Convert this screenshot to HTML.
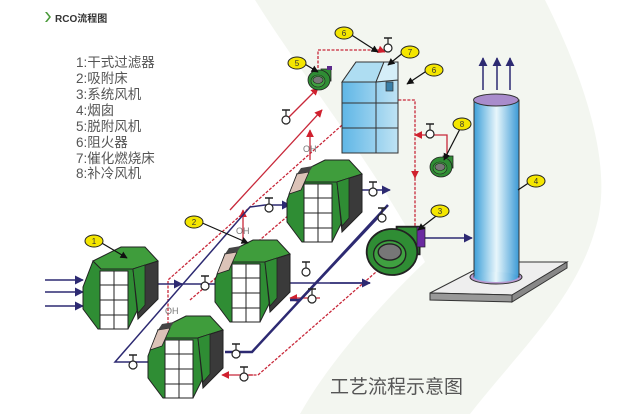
<!DOCTYPE html>
<html><head><meta charset="utf-8"><style>
html,body{margin:0;padding:0;background:#fff;}
svg{display:block;}
text{font-family:"Liberation Sans","Noto Sans CJK SC",sans-serif;}
</style></head><body>
<svg width="622" height="414" viewBox="0 0 622 414" xmlns="http://www.w3.org/2000/svg">
<defs>
<linearGradient id="cyl" x1="0" x2="1" y1="0" y2="0">
<stop offset="0" stop-color="#3d9fd8"/><stop offset="0.5" stop-color="#e8f6fb"/><stop offset="1" stop-color="#3b9ad6"/></linearGradient>
<linearGradient id="bed" x1="0" x2="1" y1="0" y2="0">
<stop offset="0" stop-color="#5fb6e6"/><stop offset="1" stop-color="#bfe3f4"/></linearGradient>
<g id="box">
<polygon points="0,40 10,14 18,22 50,22 55,62 45,82 15,82 0,62" fill="#2f8d34" stroke="#222" stroke-width="1"/>
<polygon points="10,14 38,0 62,0 75,14 50,22 18,22" fill="#3f9d3c" stroke="#222" stroke-width="1"/>
<polygon points="50,22 75,14 75,52 55,72" fill="#3a3a3a" stroke="#222" stroke-width="1"/>
<polygon points="50,22 62,18 62,58 55,66" fill="#2f8d34" stroke="#222" stroke-width="0.8"/>
<rect x="17" y="24" width="28" height="58" fill="#fff" stroke="#222" stroke-width="1"/>
<line x1="31" y1="24" x2="31" y2="82" stroke="#222"/>
<line x1="17" y1="38" x2="45" y2="38" stroke="#222"/>
<line x1="17" y1="53" x2="45" y2="53" stroke="#222"/>
<line x1="17" y1="68" x2="45" y2="68" stroke="#222"/>
</g>
<g id="boxh">
<use href="#box"/>
<polygon points="2,34 10,14 22,12 14,30" fill="#dcc3b8" stroke="#222" stroke-width="0.8"/>
<polygon points="10,14 14,8 26,6 22,12" fill="#444"/>
</g>
<g id="valve">
<line x1="0" y1="-8" x2="0" y2="0" stroke="#222" stroke-width="1.2"/>
<line x1="-4" y1="-8" x2="4" y2="-8" stroke="#222" stroke-width="1.5"/>
<circle cx="0" cy="2" r="4" fill="#fff" stroke="#222" stroke-width="1.2"/>
</g>
<g id="fan">
<rect x="2" y="-11" width="10" height="12" fill="#2f8d34" stroke="#222" stroke-width="0.8"/>
<ellipse cx="0" cy="0" rx="11" ry="10" fill="#2f8d34" stroke="#222" stroke-width="0.8"/>
<ellipse cx="-1" cy="1" rx="7" ry="6" fill="#3fa040" stroke="#222" stroke-width="0.6"/>
<ellipse cx="-1" cy="0" rx="5" ry="3.5" fill="#777" stroke="#222" stroke-width="0.6"/>
</g>
<marker id="ab" viewBox="0 0 10 10" refX="9" refY="5" markerWidth="6" markerHeight="6" orient="auto"><path d="M0,0 L10,5 L0,10z" fill="#2d2a72"/></marker>
<marker id="ar" viewBox="0 0 10 10" refX="9" refY="5" markerWidth="6" markerHeight="6" orient="auto"><path d="M0,0 L10,5 L0,10z" fill="#d0202e"/></marker>
<marker id="ak" viewBox="0 0 10 10" refX="9" refY="5" markerWidth="6" markerHeight="6" orient="auto"><path d="M0,0 L10,5 L0,10z" fill="#111"/></marker>
</defs>

<path d="M255,0 L545,0 C585,80 615,170 595,230 C575,300 520,350 470,414 L300,414 C330,360 385,300 425,262 C385,180 305,80 255,0Z" fill="#f3f6f0"/>

<path d="M45,12 l4,5 l-4,5 l2,0 l4,-5 l-4,-5z" fill="#4a9a3a"/>
<text x="55" y="22" font-size="10" font-weight="bold" fill="#333">RCO流程图</text>

<g font-size="13.5" fill="#555">
<text x="76" y="67">1:干式过滤器</text>
<text x="76" y="83">2:吸附床</text>
<text x="76" y="99">3:系统风机</text>
<text x="76" y="115">4:烟囱</text>
<text x="76" y="131">5:脱附风机</text>
<text x="76" y="147">6:阻火器</text>
<text x="76" y="163">7:催化燃烧床</text>
<text x="76" y="178">8:补冷风机</text>
</g>

<g fill="none" stroke="#c8283a" stroke-width="1.3" stroke-dasharray="3,1.5">
<polyline points="168,338 168,280 350,118 383,118"/>
<polyline points="240,375 258,375 415,238 415,100 398,100"/>
<polyline points="318,68 318,50 385,50"/>
<polyline points="190,300 318,190 322,190"/>
</g>
<g fill="none" stroke="#c8283a" stroke-width="1.3">
<line x1="230" y1="210" x2="322" y2="110" marker-end="url(#ar)"/>
<line x1="288" y1="118" x2="318" y2="88" marker-end="url(#ar)"/>
<line x1="310" y1="160" x2="310" y2="130" marker-end="url(#ar)"/>
<line x1="243" y1="243" x2="243" y2="210" marker-end="url(#ar)"/>
<polyline points="447,158 447,135 415,135" marker-end="url(#ar)"/>
<line x1="415" y1="170" x2="415" y2="178" marker-end="url(#ar)"/>
<line x1="330" y1="218" x2="300" y2="218" marker-end="url(#ar)"/>
<line x1="320" y1="298" x2="290" y2="298" marker-end="url(#ar)"/>
<line x1="253" y1="375" x2="222" y2="375" marker-end="url(#ar)"/>
<line x1="380" y1="50" x2="385" y2="52" marker-end="url(#ar)"/>
</g>

<g fill="none" stroke="#2d2a72" stroke-width="1.5">
<line x1="45" y1="280" x2="83" y2="280" marker-end="url(#ab)"/>
<line x1="45" y1="292" x2="83" y2="292" marker-end="url(#ab)"/>
<line x1="45" y1="306" x2="83" y2="306" marker-end="url(#ab)"/>
<line x1="158" y1="284" x2="215" y2="284"/>
<line x1="175" y1="284" x2="182" y2="284" marker-end="url(#ab)"/>
<polyline points="148,362 115,362 250,207 265,205 290,205" marker-end="url(#ab)"/>
<line x1="290" y1="283" x2="370" y2="283"/>
<line x1="330" y1="283" x2="370" y2="283" marker-end="url(#ab)"/>
<line x1="362" y1="190" x2="390" y2="190" marker-end="url(#ab)"/>
<line x1="425" y1="238" x2="472" y2="238" marker-end="url(#ab)"/>
<line x1="483" y1="90" x2="483" y2="58" marker-end="url(#ab)"/>
<line x1="497" y1="90" x2="497" y2="58" marker-end="url(#ab)"/>
<line x1="510" y1="90" x2="510" y2="58" marker-end="url(#ab)"/>
</g>
<g fill="none" stroke="#2d2a72" stroke-width="2.5">
<polyline points="225,352 252,352 388,205"/>
<polyline points="290,300 300,300 380,215"/>
</g>

<use href="#valve" x="205" y="284"/>
<use href="#valve" x="133" y="363"/>
<use href="#valve" x="269" y="206"/>
<use href="#valve" x="236" y="352"/>
<use href="#valve" x="306" y="270"/>
<use href="#valve" x="373" y="190"/>
<use href="#valve" x="312" y="297"/>
<use href="#valve" x="382" y="216"/>
<use href="#valve" x="244" y="375"/>
<use href="#valve" x="286" y="118"/>
<use href="#valve" x="388" y="46"/>
<use href="#valve" x="430" y="132"/>

<g font-size="9" fill="#777">
<text x="165" y="314">OH</text>
<text x="236" y="234">OH</text>
<text x="303" y="152">OH</text>
</g>

<use href="#box" x="83" y="247"/>
<use href="#boxh" x="215" y="240"/>
<use href="#boxh" x="148" y="316"/>
<use href="#boxh" x="287" y="160"/>

<polygon points="342,82 356,62 398,62 398,153 342,153" fill="url(#bed)" stroke="#333"/>
<polygon points="342,82 356,62 384,62 376,82" fill="#aeddf2" stroke="#333"/>
<polygon points="376,82 384,62 398,62 398,80" fill="#d5eef8" stroke="#333"/>
<line x1="376" y1="82" x2="376" y2="153" stroke="#333"/>
<line x1="342" y1="103" x2="398" y2="103" stroke="#333"/>
<line x1="342" y1="128" x2="398" y2="128" stroke="#333"/>
<rect x="386" y="82" width="7" height="9" fill="#3a7fa8" stroke="#333" stroke-width="0.7"/>

<g transform="translate(319,80)"><use href="#fan"/></g>
<rect x="327" y="66" width="5" height="4" fill="#5b2a8a"/>
<g transform="translate(441,167)"><use href="#fan"/></g>
<g transform="translate(392,252) scale(2.3)"><use href="#fan"/></g>
<rect x="417" y="227" width="8" height="20" fill="#6a2aa0" stroke="#222" stroke-width="0.7"/>

<polygon points="430,293 490,262 567,262 512,295" fill="#eee" stroke="#333"/>
<polygon points="430,293 512,295 512,302 430,300" fill="#999" stroke="#333"/>
<polygon points="512,295 567,262 567,268 512,302" fill="#888" stroke="#333"/>
<ellipse cx="496" cy="277" rx="26" ry="7" fill="#b89ad0" stroke="#333"/>
<rect x="474" y="100" width="45" height="177" fill="url(#cyl)" stroke="#333"/>
<ellipse cx="496" cy="277" rx="22" ry="5" fill="url(#cyl)"/>
<ellipse cx="496" cy="100" rx="22.5" ry="6" fill="#a98ccc" stroke="#333"/>

<g stroke="#111" stroke-width="1.2">
<line x1="100" y1="242" x2="127" y2="258" marker-end="url(#ak)"/>
<line x1="200" y1="222" x2="248" y2="243" marker-end="url(#ak)"/>
<line x1="303" y1="63" x2="318" y2="72" marker-end="url(#ak)"/>
<line x1="350" y1="34" x2="378" y2="52" marker-end="url(#ak)"/>
<line x1="404" y1="52" x2="388" y2="65" marker-end="url(#ak)"/>
<line x1="428" y1="70" x2="407" y2="84" marker-end="url(#ak)"/>
<line x1="462" y1="125" x2="444" y2="160" marker-end="url(#ak)"/>
<line x1="440" y1="213" x2="418" y2="230" marker-end="url(#ak)"/>
<line x1="530" y1="182" x2="518" y2="190"/>
</g>
<g fill="#f4e600" stroke="#222" stroke-width="1">
<ellipse cx="94" cy="241" rx="9" ry="6"/>
<ellipse cx="194" cy="222" rx="9" ry="6"/>
<ellipse cx="297" cy="63" rx="9" ry="6"/>
<ellipse cx="344" cy="33" rx="9" ry="6"/>
<ellipse cx="410" cy="52" rx="9" ry="6"/>
<ellipse cx="434" cy="70" rx="9" ry="6"/>
<ellipse cx="462" cy="124" rx="9" ry="6"/>
<ellipse cx="440" cy="211" rx="9" ry="6"/>
<ellipse cx="536" cy="181" rx="9" ry="6"/>
</g>
<g fill="#333" font-size="8" text-anchor="middle">
<text x="94" y="244">1</text><text x="194" y="225">2</text><text x="297" y="66">5</text>
<text x="344" y="36">6</text><text x="410" y="55">7</text><text x="434" y="73">6</text>
<text x="462" y="127">8</text><text x="440" y="214">3</text><text x="536" y="184">4</text>
</g>

<text x="330" y="393" font-size="19" fill="#555">工艺流程示意图</text>
</svg>
</body></html>
